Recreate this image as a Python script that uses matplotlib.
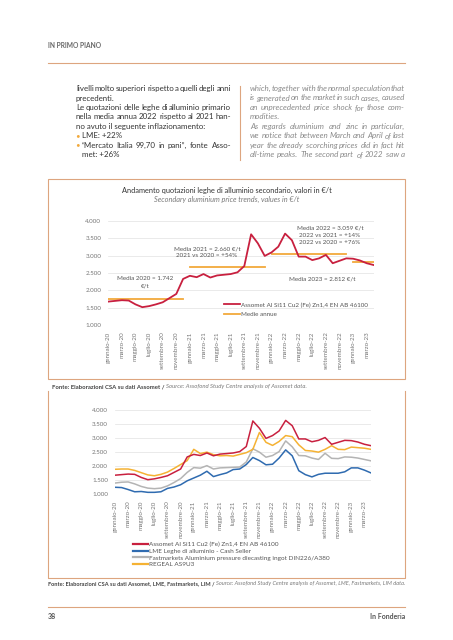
import matplotlib
matplotlib.use('Agg')
import matplotlib.pyplot as plt
from matplotlib.patches import Rectangle

plt.rcParams['font.family'] = ['Lato', 'DejaVu Sans']

# --- dati ---
mesi = ['gennaio', 'febbraio', 'marzo', 'aprile', 'maggio', 'giugno', 'luglio',
        'agosto', 'settembre', 'ottobre', 'novembre', 'dicembre']
anni = ['20', '21', '22', '23']
categorie = [m + '-' + a for a in anni for m in mesi][:40]   # gennaio-20 ... aprile-23

assomet = [1680, 1700, 1720, 1710, 1600, 1520, 1550, 1600, 1660, 1780, 1900, 2330,
           2420, 2380, 2470, 2370, 2430, 2450, 2470, 2520, 2700, 3610, 3350, 2990,
           3090, 3255, 3630, 3440, 2970, 2970, 2870, 2920, 3020, 2780, 2850, 2920,
           2910, 2860, 2780, 2730]
lme = [1250, 1240, 1170, 1090, 1100, 1070, 1070, 1090, 1210, 1260, 1340, 1480,
       1580, 1680, 1820, 1630, 1700, 1760, 1880, 1900, 2060, 2310, 2200, 2050,
       2070, 2290, 2580, 2370, 1840, 1700, 1620, 1710, 1750, 1750, 1750, 1800,
       1940, 1940, 1860, 1760]
fastmarkets = [1400, 1430, 1440, 1370, 1280, 1220, 1200, 1220, 1300, 1420, 1560, 1780,
               1950, 1930, 2020, 1900, 1940, 1950, 1960, 1970, 2150, 2620, 2500, 2320,
               2380, 2520, 2900, 2690, 2380, 2370, 2290, 2240, 2460, 2280, 2270, 2330,
               2320, 2290, 2240, 2190]
regeal = [1890, 1900, 1900, 1850, 1770, 1690, 1660, 1710, 1790, 1920, 2060, 2200,
          2600, 2450, 2500, 2410, 2370, 2380, 2360, 2420, 2480, 2600, 3200, 2850,
          2740, 2880, 3090, 3050, 2760, 2560, 2540, 2500, 2600, 2730, 2600, 2590,
          2680, 2660, 2640, 2600]

anni_medie = ['2020', '2021', '2022', '2023']
valori_medie = [1742, 2660, 3059, 2812]

nomi_serie = ['Assomet Al Si11 Cu2 (Fe) Zn1,4 EN AB 46100',
              'LME Leghe di alluminio - Cash Seller',
              'Fastmarkets Aluminium pressure diecasting ingot DIN226/A380',
              'REGEAL AS9U3']

ROSSO = '#C8203F'
ARANCIO = '#F2A93B'
BLU = '#2F6BB0'
GRIGIO = '#B4B4B4'
GIALLO = '#F5B233'
CORNICE = '#DDA57F'
GRIGIO_TESTO = '#7A7A7A'

W, H = 453, 640
fig = plt.figure(figsize=(W / 100, H / 100), dpi=100)
page = fig.add_axes([0, 0, 1, 1])
page.set_xlim(0, W)
page.set_ylim(H, 0)
page.axis('off')
renderer = fig.canvas.get_renderer()


def assi_px(left, top, right, bottom):
    return fig.add_axes([left / W, 1 - bottom / H, (right - left) / W, (bottom - top) / H])


def riga(testo, x0, x1, y, **kw):
    # riga giustificata: distribuisce lo spazio tra le parole
    parole = testo.split(' ')
    arts = [page.text(0, y + 2, p, va='baseline', **kw) for p in parole]
    larg = [a.get_window_extent(renderer).width for a in arts]
    gap = (x1 - x0 - sum(larg)) / (len(parole) - 1) if len(parole) > 1 else 0
    x = x0
    for a, w in zip(arts, larg):
        a.set_x(x)
        x += w + gap


def riga_libera(testo, x0, y, **kw):
    page.text(x0, y + 2, testo, va='baseline', **kw)


# --- intestazione ---
page.text(48, 45, 'IN PRIMO PIANO', fontsize=4.8, fontweight='bold', color='#666666', va='center')
page.plot([48, 405], [63, 63], color=CORNICE, lw=0.8)

# colonna sinistra
ys = [89, 98.5, 108, 117.4, 126.8, 136.2, 145.6, 155]
st_sx = dict(fontsize=5.7, color='#333333')
riga('livelli molto superiori rispetto a quelli degli anni', 76, 231, ys[0], **st_sx)
riga_libera('precedenti.', 76, ys[1], **st_sx)
riga('Le quotazioni delle leghe di alluminio primario', 76, 231, ys[2], **st_sx)
riga('nella media annua 2022 rispetto al 2021 han-', 76, 231, ys[3], **st_sx)
riga_libera('no avuto il seguente inflazionamento:', 76, ys[4], **st_sx)
riga_libera('•', 75.5, ys[5], fontsize=5.7, color=ARANCIO)
riga_libera('LME: +22%', 81.5, ys[5], **st_sx)
riga_libera('•', 75.5, ys[6], fontsize=5.7, color=ARANCIO)
riga('\u201cMercato Italia 99,70 in pani\u201d, fonte Asso-', 81.5, 231, ys[6], **st_sx)
riga_libera('met: +26%', 82, ys[7], **st_sx)

page.plot([240, 240], [86, 160], color=CORNICE, lw=0.8)

# colonna destra
st_dx = dict(fontsize=5.8, color='#8A8A8A', style='italic')
righe_dx = ['which, together with the normal speculation that',
            'is generated on the market in such cases, caused',
            'an unprecedented price shock for those com-',
            None,
            'As regards aluminium and zinc in particular,',
            'we notice that between March and April of last',
            'year the already scorching prices did in fact hit',
            'all-time peaks. The second part of 2022 saw a']
for y, t in zip(ys, righe_dx):
    if t is None:
        riga_libera('modities.', 250, y, **st_dx)
    else:
        riga(t, 250, 405, y, **st_dx)

# --- cornici ---
page.add_patch(Rectangle((48, 179), 357, 200, fill=False, ec=CORNICE, lw=0.8))
page.plot([48, 48, 405, 405], [391, 577.5, 577.5, 391], color=CORNICE, lw=0.8)

# --- grafico 1 ---
page.text(227, 190, 'Andamento quotazioni leghe di alluminio secondario, valori in \u20ac/t',
          ha='center', va='center', fontsize=5.3, color='#333333')
page.text(227, 199.5, 'Secondary aluminium price trends, values in \u20ac/t',
          ha='center', va='center', fontsize=5.3, color=GRIGIO_TESTO, style='italic')

x = list(range(len(categorie)))
ax1 = assi_px(108.3, 220.7, 373.5, 325.3)
ax1.plot(x, assomet, color=ROSSO, lw=1.3, label=nomi_serie[0], zorder=3)
for i, (a, v) in enumerate(zip(anni_medie, valori_medie)):
    idx = [k for k, c in enumerate(categorie) if c.endswith('-' + a[2:])]
    ax1.plot(idx, [v] * len(idx), color=ARANCIO, lw=1.3, zorder=2,
             label='Medie annue' if i == 0 else None)

ax1.text(5.4, 2240, 'Media 2020 = 1.742\n\u20ac/t', ha='center', va='center',
         fontsize=4.5, color='#555555', linespacing=1.5)
ax1.text(14.5, 3090, 'Media 2021 = 2.660 \u20ac/t\n2021 vs 2020 = +54%', ha='center', va='center',
         fontsize=4.5, color='#555555', linespacing=1.5)
ax1.text(32.6, 3580, 'Media 2022 = 3.059 \u20ac/t\n2022 vs 2021 = +14%\n2022 vs 2020 = +76%',
         ha='center', va='center', fontsize=4.5, color='#555555', linespacing=1.5)
ax1.text(31.4, 2330, 'Media 2023 = 2.812 \u20ac/t', ha='center', va='center',
         fontsize=4.5, color='#555555')
ax1.legend(loc='upper left', bbox_to_anchor=(0.425, 0.25), frameon=False, fontsize=4.5,
           handlelength=2.5, handletextpad=0.15, labelspacing=0.7, borderpad=0,
           labelcolor='#555555')

# --- grafico 2 ---
ax2 = assi_px(115, 410, 371, 494.3)
ax2.plot(x, assomet, color=ROSSO, lw=1.1, label=nomi_serie[0], zorder=3)
ax2.plot(x, lme, color=BLU, lw=1.1, label=nomi_serie[1], zorder=3)
ax2.plot(x, fastmarkets, color=GRIGIO, lw=1.1, label=nomi_serie[2], zorder=2)
ax2.plot(x, regeal, color=GIALLO, lw=1.1, label=nomi_serie[3], zorder=2)
leg = ax2.legend(loc='upper left', bbox_to_anchor=(130 / W, 1 - 538.5 / H),
                 bbox_transform=fig.transFigure, frameon=False, fontsize=4.6,
                 handlelength=2.3, handletextpad=0.15, labelspacing=0.2, borderpad=0,
                 labelcolor='#555555')
for h in leg.get_lines():
    h.set_linewidth(1.6)

for ax in (ax1, ax2):
    ax.set_xlim(0, len(categorie) - 1)
    ax.set_ylim(1000, 4000)
    ax.set_yticks([1000, 1500, 2000, 2500, 3000, 3500, 4000])
    ax.set_yticklabels(['1.000', '1.500', '2.000', '2.500', '3.000', '3.500', '4.000'])
    ax.set_xticks(x[::2])
    ax.set_xticklabels(categorie[::2], rotation=90, va='top', ha='center')
    ax.tick_params(length=0, labelsize=4.5, colors='#777777')
    ax.tick_params(axis='x', pad=4.5)
    ax.tick_params(axis='y', pad=5)
    ax.grid(axis='y', color='#E2E2E2', lw=0.5)
    ax.set_axisbelow(True)
    ax.set_facecolor('none')
    for s in ax.spines.values():
        s.set_visible(False)
    ax.margins(x=0)


# --- fonti ---
def fonte(x0, y, grassetto, corsivo, size):
    t = page.text(x0, y, grassetto + ' ', va='center', fontsize=size, color='#444444', fontweight='bold')
    w = t.get_window_extent(renderer).width
    page.text(x0 + w, y, corsivo, va='center', fontsize=size, color=GRIGIO_TESTO, style='italic')


fonte(52, 386.7, 'Fonte: Elaborazioni CSA su dati Assomet /',
      'Source: Assofond Study Centre analysis of Assomet data.', 4.3)
fonte(48, 583.5, 'Fonte: Elaborazioni CSA su dati Assomet, LME, Fastmarkets, LIM /',
      'Source: Assofond Study Centre analysis of Assomet, LME, Fastmarkets, LIM data.', 4.05)

# --- piede ---
page.plot([48, 405], [607.3, 607.3], color=CORNICE, lw=0.8)
page.text(48, 616.7, '38', va='center', fontsize=5, color='#555555', fontweight='bold')
page.text(405, 616.7, 'In Fonderia', va='center', ha='right', fontsize=5, color='#555555',
          fontweight='bold')

fig.savefig('out.png', dpi=100)
